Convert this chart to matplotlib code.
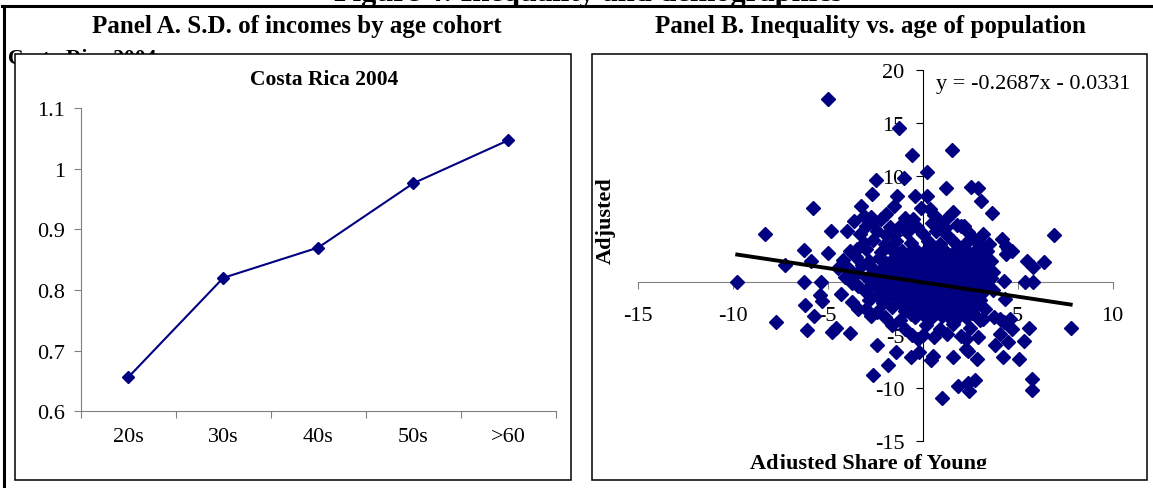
import matplotlib.pyplot as plt
from matplotlib.patches import Rectangle
from matplotlib.lines import Line2D

# canvas size in pixels, layout below is given in pixels from the top-left corner
W, H = 1153, 489

# Panel A: s.d. of log incomes by age cohort
cohorts = ['20s', '30s', '40s', '50s', '>60']
sd_income = [0.656, 0.820, 0.870, 0.976, 1.047]
sd_ticks = [0.6, 0.7, 0.8, 0.9, 1.0, 1.1]
sd_ticklabels = ['0.6', '0.7', '0.8', '0.9', '1', '1.1']

# Panel B: adjusted inequality vs adjusted share of young (scattered observations)
outer_points = [
    (-4.96, 17.3), (-1.24, 14.5), (-0.55, 12.0), (1.54, 12.5), (0.25, 10.4),
    (-2.45, 9.6), (-1.0, 9.8), (1.22, 8.9), (2.55, 9.0), (2.9, 8.9),
    (3.06, 7.6), (3.64, 6.5), (6.9, 4.4), (-5.75, 6.95), (-2.64, 8.3),
    (-1.36, 8.1), (-0.4, 8.1), (0.22, 8.1), (1.62, 6.6), (-4.82, 4.8),
    (-4.0, 4.8), (-6.22, 3.0), (-5.0, 2.75), (-8.3, 4.5), (-7.25, 1.6),
    (-9.75, 0.0), (-7.7, -3.8), (-6.25, 0.0), (-6.2, -2.2), (-6.06, -4.5),
    (-5.7, -3.2), (-5.87, 2.0), (-5.33, 0.0), (-5.37, -1.2), (-5.3, -1.8),
    (-4.75, -4.75), (-4.56, -4.3), (-3.8, -4.8), (-4.27, -1.1), (-3.7, -1.9),
    (-4.44, 1.3), (-3.4, -0.35), (-2.4, -5.9), (-2.63, -8.8), (-1.83, -7.8),
    (-1.38, -6.6), (-0.62, -7.1), (-0.23, -5.4), (-0.2, -6.6), (0.44, -7.4),
    (0.57, -6.95), (1.02, -10.9), (1.6, -7.1), (1.88, -9.8), (2.37, -9.5),
    (2.46, -10.25), (2.75, -9.2), (2.85, -7.26), (2.37, -6.5), (2.94, -5.2),
    (3.75, -3.3), (3.8, -5.9), (4.23, -7.1), (4.52, -5.7), (5.06, -7.3),
    (5.35, -5.6), (5.63, -4.3), (5.77, -9.15), (5.77, -10.2), (7.8, -4.3),
    (5.4, 0.0), (5.83, 0.0), (5.48, 2.0), (5.83, 1.4), (6.4, 1.85),
    (4.2, 4.1), (4.5, 3.1), (4.3, 0.1), (4.33, -1.6), (4.1, -3.5),
    (4.7, -4.4), (4.3, -3.8), (4.6, -3.5), (4.08, -4.9), (2.3, -5.4),
    (2.3, -6.3), (3.7, 0.9), (4.4, 2.6), (3.0, -3.6), (-3.4, -2.5),
    (-2.7, -3.2), (-0.55, -5.0), (-3.24, 7.2), (-3.1, 6.25), (-3.6, 5.8),
    (-3.46, 3.1), (-1.9, 4.4), (-1.2, 5.3), (-0.5, 5.9), (-0.1, 7.0),
    (0.4, 6.9), (0.9, 5.6), (2.0, 5.3), (-1.5, 7.2), (-2.2, 5.9),
    (2.2, 5.3), (2.7, 4.05), (4.4, 3.4), (4.7, 2.95),
]

core_points = [
    (-2.7, 6.1), (-1.9, 6.4), (-0.9, 6.0), (0.6, 6.3), (1.3, 6.0),
    (-3.0, 5.3), (-2.6, 5.6), (-1.7, 5.2), (-0.9, 5.5), (-0.3, 5.2), (0.5, 5.6), (1.2, 5.1), (1.8, 5.4),
    (-3.3, 4.5), (-2.4, 4.8), (-1.5, 4.4), (-0.8, 4.7), (0.0, 4.5), (0.7, 4.8), (1.3, 4.4), (2.4, 4.7), (3.2, 4.5),
    (-3.1, 3.7), (-2.6, 4.0), (-2.0, 3.6), (-1.4, 3.9), (-0.6, 3.7), (0.3, 3.9), (0.9, 3.6), (1.6, 3.9),
    (2.3, 3.7), (2.9, 3.9), (3.5, 3.6),
    (-3.8, 2.9), (-3.0, 3.1), (-2.2, 2.8), (-1.7, 3.2), (-1.1, 2.9), (-0.4, 3.1), (0.1, 2.8), (0.7, 3.2),
    (1.2, 2.9), (1.8, 3.1), (2.4, 2.8), (2.9, 3.2), (3.4, 2.9),
    (-4.2, 2.1), (-3.5, 2.4), (-2.8, 2.0), (-2.3, 2.3), (-1.6, 2.1), (-1.0, 2.4), (-0.5, 2.0), (0.0, 2.3),
    (0.5, 2.1), (1.0, 2.4), (1.5, 2.0), (2.0, 2.3), (2.6, 2.1), (3.1, 2.4), (3.6, 2.0),
    (-3.9, 1.3), (-3.2, 1.6), (-2.6, 1.2), (-2.0, 1.5), (-1.4, 1.3), (-0.8, 1.6), (-0.3, 1.2), (0.3, 1.5),
    (0.8, 1.3), (1.3, 1.6), (1.8, 1.2), (2.3, 1.5), (2.8, 1.3), (3.3, 1.6),
    (-4.1, 0.5), (-3.5, 0.8), (-2.9, 0.4), (-2.2, 0.7), (-1.7, 0.5), (-1.1, 0.8), (-0.6, 0.4), (0.0, 0.7),
    (0.5, 0.5), (1.0, 0.8), (1.5, 0.4), (2.0, 0.7), (2.5, 0.5), (3.0, 0.8), (3.6, 0.4),
    (-3.7, -0.1), (-2.7, -0.3), (-2.0, 0.0), (-1.4, -0.3), (-0.8, -0.1), (-0.2, -0.4), (0.3, -0.1), (0.8, -0.3),
    (1.3, 0.0), (1.8, -0.3), (2.3, -0.1), (2.8, -0.4), (3.3, -0.1),
    (-3.0, -0.9), (-2.4, -1.2), (-1.7, -0.9), (-1.1, -1.1), (-0.5, -0.8), (0.1, -1.2), (0.6, -0.9), (1.1, -1.1),
    (1.6, -0.8), (2.1, -1.2), (2.6, -0.9), (3.1, -1.1), (3.7, -0.8),
    (-2.8, -1.7), (-2.1, -2.0), (-1.4, -1.6), (-0.8, -1.9), (-0.2, -1.7), (0.4, -2.0), (0.9, -1.6), (1.4, -1.9),
    (1.9, -1.7), (2.4, -2.0), (3.0, -1.7),
    (-3.0, -2.5), (-2.4, -2.8), (-1.6, -2.4), (-0.9, -2.7), (-0.3, -2.5), (0.3, -2.8), (0.9, -2.4), (1.5, -2.7),
    (2.0, -2.5), (2.6, -2.8), (3.3, -2.5),
    (-2.0, -3.3), (-1.2, -3.6), (-0.4, -3.3), (0.4, -3.5), (1.0, -3.2), (1.7, -3.6), (2.3, -3.3), (3.2, -3.5),
    (-1.6, -4.1), (-0.9, -4.4), (0.2, -4.1), (0.9, -4.4), (1.6, -4.0), (2.5, -4.3),
    (0.0, -5.0), (0.6, -5.2), (1.3, -4.9), (2.0, -5.1),
]

# densest part of the cloud, just right of the origin
centre_points = [
    (-1.3, 2.6), (-0.7, 2.7), (-0.2, 2.5), (0.3, 2.6), (0.8, 2.7), (1.3, 2.5), (1.8, 2.6), (2.3, 2.7), (2.8, 2.5),
    (-1.9, 1.8), (-1.2, 1.9), (-0.6, 1.8), (0.0, 1.9), (0.6, 1.8), (1.1, 1.9), (1.6, 1.8), (2.1, 1.9),
    (2.6, 1.8), (3.1, 1.9),
    (-2.5, 1.0), (-1.8, 1.0), (-1.0, 1.1), (-0.4, 0.9), (0.2, 1.0), (0.7, 1.1), (1.2, 0.9), (1.7, 1.0),
    (2.2, 1.1), (2.7, 0.9), (3.2, 1.0),
    (-2.4, 0.2), (-1.5, 0.2), (-0.9, 0.3), (-0.3, 0.1), (0.3, 0.2), (0.8, 0.3), (1.3, 0.1), (1.8, 0.2),
    (2.3, 0.3), (2.8, 0.1),
    (-2.3, -0.6), (-1.4, -0.6), (-0.7, -0.5), (-0.1, -0.7), (0.5, -0.6), (1.0, -0.5), (1.5, -0.7), (2.0, -0.6),
    (2.5, -0.5), (3.0, -0.7),
    (-1.9, -1.4), (-1.2, -1.4), (-0.5, -1.3), (0.2, -1.5), (0.7, -1.4), (1.2, -1.3), (1.7, -1.5), (2.2, -1.4),
    (2.7, -1.3),
    (-1.1, -2.2), (-0.5, -2.2), (0.1, -2.1), (0.6, -2.3), (1.1, -2.2), (1.7, -2.1), (2.2, -2.3), (2.8, -2.2),
    (-0.6, -3.0), (0.0, -3.0), (0.7, -2.9), (1.3, -3.1), (1.9, -3.0), (2.6, -2.9),
]

all_points = outer_points + core_points + centre_points
share_young = [p[0] for p in all_points]
adj_inequality = [p[1] for p in all_points]

# fitted trend, as printed on the chart
slope, intercept = -0.2687, -0.0331

plt.rcParams['font.family'] = ['Liberation Serif', 'DejaVu Serif']
plt.rcParams['axes.unicode_minus'] = False

navy = '#000080'
axis_grey = '#808080'

fig = plt.figure(figsize=(W / 100, H / 100), dpi=100)


def px_rect(x0, y0, x1, y1):
    # pixel box (top-left origin) -> figure fraction [left, bottom, width, height]
    return [x0 / W, 1 - y1 / H, (x1 - x0) / W, (y1 - y0) / H]


def fx(x):
    return x / W


def fy(y):
    return 1 - y / H


# heading of the figure, mostly above the page edge
fig.text(fx(588), fy(1.5), 'Figure 4: Inequality and demographics', ha='center', va='baseline',
         fontsize=22, fontweight='bold')

# table rules
fig.add_artist(Line2D([fx(2), 1], [fy(7), fy(7)], color='black', lw=2.2, transform=fig.transFigure))
fig.add_artist(Line2D([fx(4), fx(4)], [0, fy(7)], color='black', lw=2.2, transform=fig.transFigure))

fig.text(fx(297), fy(27), 'Panel A. S.D. of incomes by age cohort', ha='center', va='center',
         fontsize=18, fontweight='bold')
fig.text(fx(870), fy(27), 'Panel B. Inequality vs. age of population', ha='center', va='center',
         fontsize=18, fontweight='bold')

# leftover chart title sitting behind the chart box
fig.text(fx(8), fy(49), 'Costa Rica 2004', ha='left', va='top', fontsize=15.5,
         fontweight='bold', zorder=0.5)

# chart boxes
for x0, x1 in [(15, 571), (592, 1147)]:
    r = px_rect(x0, 55, x1, 481)
    fig.add_artist(Rectangle((r[0], r[1]), r[2], r[3], transform=fig.transFigure,
                             facecolor='white', edgecolor='black', lw=1.1, zorder=1))

# ---- Panel A
ax1 = fig.add_axes(px_rect(80.7, 109, 556, 412.3), zorder=2)
ax1.patch.set_visible(False)
xpos = [i + 0.5 for i in range(len(cohorts))]
ax1.plot(xpos, sd_income, color=navy, lw=1.5, marker='D', ms=6.5, mfc=navy, mec=navy)
ax1.set_xlim(0, len(cohorts))
ax1.set_ylim(0.6, 1.1)
ax1.set_yticks(sd_ticks)
ax1.set_yticklabels(sd_ticklabels)
ax1.set_xticks(range(len(cohorts) + 1))
ax1.set_xticklabels([])
ax1.set_xticks(xpos, minor=True)
ax1.set_xticklabels(cohorts, minor=True)
ax1.tick_params(axis='x', which='major', direction='out', length=5, color=axis_grey)
ax1.tick_params(axis='x', which='minor', length=0, pad=11, labelsize=16)
ax1.tick_params(axis='y', direction='out', length=5, pad=6, labelsize=16, color=axis_grey)
for s in ['top', 'right']:
    ax1.spines[s].set_visible(False)
for s in ['left', 'bottom']:
    ax1.spines[s].set_color(axis_grey)
fig.text(fx(324), fy(80), 'Costa Rica 2004', ha='center', va='center', fontsize=15.5,
         fontweight='bold', zorder=3)

# ---- Panel B
ax2 = fig.add_axes(px_rect(637.5, 71, 1112.5, 442), zorder=2)
ax2.patch.set_visible(False)
ax2.plot(share_young, adj_inequality, ls='none', marker='D', ms=7.0, mfc=navy, mec=navy, zorder=3)
xfit = [min(share_young), max(share_young)]
ax2.plot(xfit, [slope * v + intercept for v in xfit], color='black', lw=2.8, zorder=4)
ax2.set_xlim(-15, 10)
ax2.set_ylim(-15, 20)
ax2.set_xticks([-15, -10, -5, 0, 5, 10])
ax2.set_yticks([-15, -10, -5, 0, 5, 10, 15, 20])
ax2.spines['left'].set_position(('data', 0))
ax2.spines['bottom'].set_position(('data', 0))
ax2.spines['left'].set_color('black')
ax2.spines['bottom'].set_color(axis_grey)
for s in ['top', 'right']:
    ax2.spines[s].set_visible(False)
ax2.tick_params(axis='x', direction='out', length=5, pad=12, labelsize=16, color=axis_grey)
ax2.tick_params(axis='y', direction='out', length=5, pad=8, labelsize=16, color='black')

fig.text(fx(936), fy(85), 'y = -0.2687x - 0.0331', ha='left', va='center', fontsize=16)
fig.text(fx(606), fy(221), 'Adjusted', rotation=90, ha='center', va='center', fontsize=16,
         fontweight='bold')
fig.text(fx(869), fy(469), 'Adjusted Share of Young', ha='center', va='baseline', fontsize=16,
         fontweight='bold', zorder=3)
# axis title runs into the bottom of the box
fig.add_artist(Rectangle((fx(593), fy(480)), fx(553), (480 - 470) / H, transform=fig.transFigure,
                         facecolor='white', edgecolor='none', zorder=3.5))

fig.savefig('out.png', dpi=100)
